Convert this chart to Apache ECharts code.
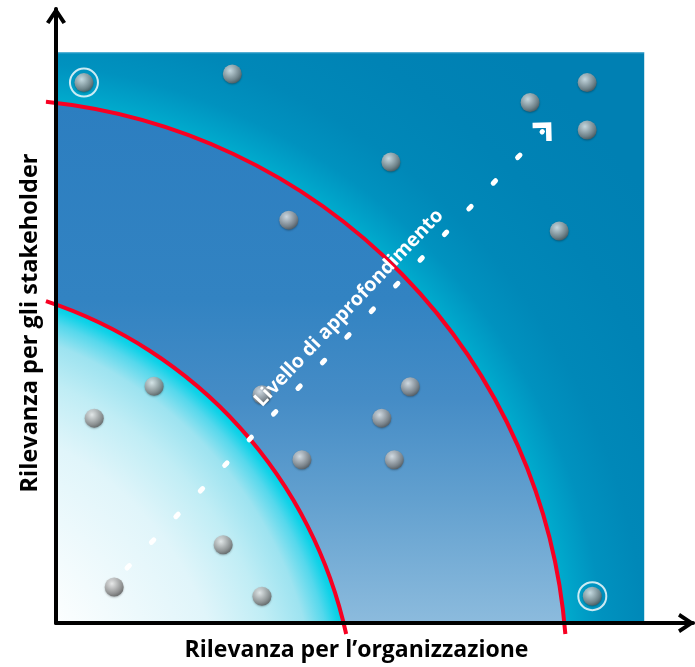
<!DOCTYPE html>
<html><head><meta charset="utf-8">
<script src="https://cdn.jsdelivr.net/npm/echarts/dist/echarts.min.js"></script>
<style>html,body{margin:0;padding:0;background:#fff}#c{width:695px;height:667px}</style>
</head><body><div id="c"></div>
<script>
// ---- data ----
const xAxisTitle = 'Rilevanza per l’organizzazione';
const yAxisTitle = 'Rilevanza per gli stakeholder';
const arrowLabel = 'Livello di approfondimento';
// material topics (axis units)
const topicsX = [4.9, 30.9, 40.8, 58.7, 83.1, 93.1, 93.1, 88.2, 17.2, 6.7, 36.1, 62.1, 57.1, 43.1, 59.3, 29.3, 10.2, 36.1, 94.0];
const topicsY = [94.7, 96.2, 70.6, 80.8, 91.2, 94.7, 86.4, 68.7, 41.5, 35.9, 40.0, 41.4, 35.9, 28.6, 28.6, 13.7, 6.3, 4.7, 4.7];
// highlighted topics
const highlightX = [4.9, 94.0];
const highlightY = [94.7, 4.7];
// matrix extent (x, y)
const matrixExtent = [103.1, 100];
// zone boundaries: centre x, centre y, radius
const innerZone = [-26.6, -18.9, 79.3];
const outerZone = [-12.3, -10.0, 101.9];
// depth arrow start / end
const depthArrowX = [12.45, 85.19];
const depthArrowY = [9.64, 86.06];

const chart = echarts.init(document.getElementById('c'), null, {renderer: 'canvas'});

const axisArrow = 'path://M10,0 L20,15 L16.6,17 L10,7 L3.4,17 L0,15 Z';
const FONT = '"Open Sans", Lato, sans-serif';

function renderZones(params, api) {
  const o = api.coord([0, 0]);
  const tr = api.coord(matrixExtent);
  const u = api.size([1, 0])[0];
  const oc = api.coord([outerZone[0], outerZone[1]]);
  const orr = outerZone[2] * u;
  const ic = api.coord([innerZone[0], innerZone[1]]);
  const ir = innerZone[2] * u;
  const R = orr + 240;
  const s = d => Math.min(1, (orr + d) / R);
  const outerFill = new echarts.graphic.RadialGradient(oc[0], oc[1], R, [
    {offset: 0, color: '#00b0d0'},
    {offset: s(0), color: '#00accd'},
    {offset: s(15), color: '#00a1c8'},
    {offset: s(38), color: '#0092bf'},
    {offset: s(80), color: '#0088b8'},
    {offset: s(150), color: '#0083b5'},
    {offset: 1, color: '#0080b3'}
  ], true);
  const top = oc[1] - orr;
  const h = o[1] - top;
  const midFill = new echarts.graphic.LinearGradient(0, top, 0, o[1], [
    {offset: 0, color: '#2c7ec0'},
    {offset: 200 / h, color: '#3283c2'},
    {offset: 300 / h, color: '#458cc6'},
    {offset: 400 / h, color: '#62a0cf'},
    {offset: 1, color: '#8cbbdd'}
  ], true);
  const k = d => Math.max(0, (ir - d) / ir);
  const innerFill = new echarts.graphic.RadialGradient(ic[0], ic[1], ir, [
    {offset: 0, color: '#ffffff'},
    {offset: k(280), color: '#ffffff'},
    {offset: k(130), color: '#e0f5fa'},
    {offset: k(75), color: '#c0edf5'},
    {offset: k(38), color: '#9de3f0'},
    {offset: k(18), color: '#55d8ec'},
    {offset: k(6), color: '#12d2e8'},
    {offset: 1, color: '#00cfe6'}
  ], true);
  return {
    type: 'group',
    children: [
      {type: 'rect', shape: {x: o[0], y: tr[1], width: tr[0] - o[0], height: o[1] - tr[1]}, style: {fill: outerFill}},
      {type: 'line', shape: {x1: o[0], y1: tr[1] + 0.5, x2: tr[0], y2: tr[1] + 0.5}, style: {stroke: 'rgba(120,190,225,0.6)', lineWidth: 1}},
      {type: 'circle', shape: {cx: oc[0], cy: oc[1], r: orr}, style: {fill: midFill}},
      {type: 'circle', shape: {cx: ic[0], cy: ic[1], r: ir}, style: {fill: innerFill}}
    ]
  };
}

function renderArc(params, api) {
  const o = api.coord([0, 0]);
  const u = api.size([1, 0])[0];
  const c = api.coord([api.value(0), api.value(1)]);
  const r = api.value(2) * u;
  const lx = o[0] - 10;
  const by = o[1] + 11;
  const dx = lx - c[0];
  const a0 = Math.atan2(-Math.sqrt(r * r - dx * dx), dx);
  const dy = by - c[1];
  const a1 = Math.atan2(dy, Math.sqrt(r * r - dy * dy));
  return {
    type: 'arc',
    shape: {cx: c[0], cy: c[1], r: r, startAngle: a0, endAngle: a1, clockwise: true},
    style: {stroke: '#f70022', lineWidth: 4, fill: null}
  };
}

function arrowGeom(api) {
  const p0 = api.coord([depthArrowX[0], depthArrowY[0]]);
  const p1 = api.coord([depthArrowX[1], depthArrowY[1]]);
  const vx = p1[0] - p0[0], vy = p1[1] - p0[1];
  const len = Math.sqrt(vx * vx + vy * vy);
  return {p0, p1, vx, vy, len, ux: vx / len, uy: vy / len};
}

function renderDepthArrow(params, api) {
  const g = arrowGeom(api);
  const {p0, p1, len, ux, uy} = g;
  const period = len / 17;
  const dash = 3.4;
  const corner = [p1[0] + ux * 9.5, p1[1] + uy * 9.5];
  const bx = -ux, by = -uy;
  const rot = (x, y, a) => [x * Math.cos(a) - y * Math.sin(a), x * Math.sin(a) + y * Math.cos(a)];
  const a1 = rot(bx, by, Math.PI / 4), a2 = rot(bx, by, -Math.PI / 4);
  const armL = 16;
  return {
    type: 'group',
    children: [
      {type: 'line', shape: {x1: p0[0], y1: p0[1], x2: p1[0] + ux * 0.5, y2: p1[1] + uy * 0.5},
        style: {stroke: '#ffffff', lineWidth: 5, lineCap: 'round', lineDash: [dash, period - dash]}},
      {type: 'polyline', shape: {points: [
        [corner[0] + a1[0] * armL, corner[1] + a1[1] * armL], corner,
        [corner[0] + a2[0] * armL, corner[1] + a2[1] * armL]]},
        style: {stroke: '#ffffff', lineWidth: 5.5, lineJoin: 'miter', lineCap: 'butt', fill: null}}
    ]
  };
}

function renderArrowLabel(params, api) {
  const g = arrowGeom(api);
  const {p0, vx, vy, len, ux, uy} = g;
  const nx = uy, ny = -ux; // up-left normal
  const t = 0.567 * len;
  const tc = [p0[0] + ux * t + nx * 18.5, p0[1] + uy * t + ny * 18.5];
  return {type: 'text', x: tc[0], y: tc[1], rotation: Math.atan2(-vy, vx),
    style: {text: arrowLabel, fill: '#ffffff', fontSize: 19.5, fontWeight: 'bold', fontFamily: FONT, align: 'center', verticalAlign: 'middle'}};
}

const sphere = new echarts.graphic.RadialGradient(0.38, 0.32, 0.7, [
  {offset: 0, color: '#f6f6f6'},
  {offset: 0.35, color: '#c4c4c4'},
  {offset: 0.75, color: '#8a8a8a'},
  {offset: 1, color: '#5c5c5c'}
]);

const axisCommon = {
  type: 'value',
  min: 0,
  z: 3,
  axisLabel: {show: false},
  axisTick: {show: false},
  splitLine: {show: false},
  axisLine: {show: true, onZero: false, symbol: ['none', axisArrow], symbolSize: [20, 17], symbolOffset: [0, -6.5],
    lineStyle: {color: '#000', width: 4}},
  nameLocation: 'middle',
  nameTextStyle: {color: '#000', fontFamily: FONT, fontWeight: 'bold', fontSize: 23}
};

chart.setOption({
  animation: false,
  grid: {left: 56, right: 2, top: 9, bottom: 44, containLabel: false, outerBoundsMode: 'none'},
  xAxis: Object.assign({}, axisCommon, {max: 111.65, name: xAxisTitle, nameGap: 16,
    nameTextStyle: Object.assign({}, axisCommon.nameTextStyle, {padding: [0, 36, 0, 0]})}),
  yAxis: Object.assign({}, axisCommon, {max: 107.6, name: yAxisTitle, nameGap: 14, nameRotate: 90,
    nameTextStyle: Object.assign({}, axisCommon.nameTextStyle, {fontSize: 23.5, padding: [0, 14, 0, 0]})}),
  series: [
    {type: 'custom', z: 1, clip: true, silent: true, renderItem: renderZones, data: [[0, 0]]},
    {type: 'custom', z: 2, clip: false, silent: true, renderItem: renderArc,
      encode: {x: 0, y: 1}, data: [innerZone, outerZone]},
    {type: 'custom', z: 4, clip: false, silent: true, renderItem: renderDepthArrow, data: [[depthArrowX[0], depthArrowY[0]]]},
    {type: 'scatter', z: 5, symbolSize: 19, silent: true,
      itemStyle: {color: sphere, shadowBlur: 2, shadowColor: 'rgba(0,0,0,0.35)', shadowOffsetY: 1},
      data: topicsX.map((x, i) => [x, topicsY[i]])},
    {type: 'scatter', z: 5, symbolSize: 28, silent: true,
      itemStyle: {color: 'rgba(0,0,0,0)', borderColor: '#ffffff', borderWidth: 2},
      data: highlightX.map((x, i) => [x, highlightY[i]])},
    {type: 'custom', z: 6, clip: false, silent: true, renderItem: renderArrowLabel, data: [[depthArrowX[1], depthArrowY[1]]]}
  ]
});
</script></body></html>
